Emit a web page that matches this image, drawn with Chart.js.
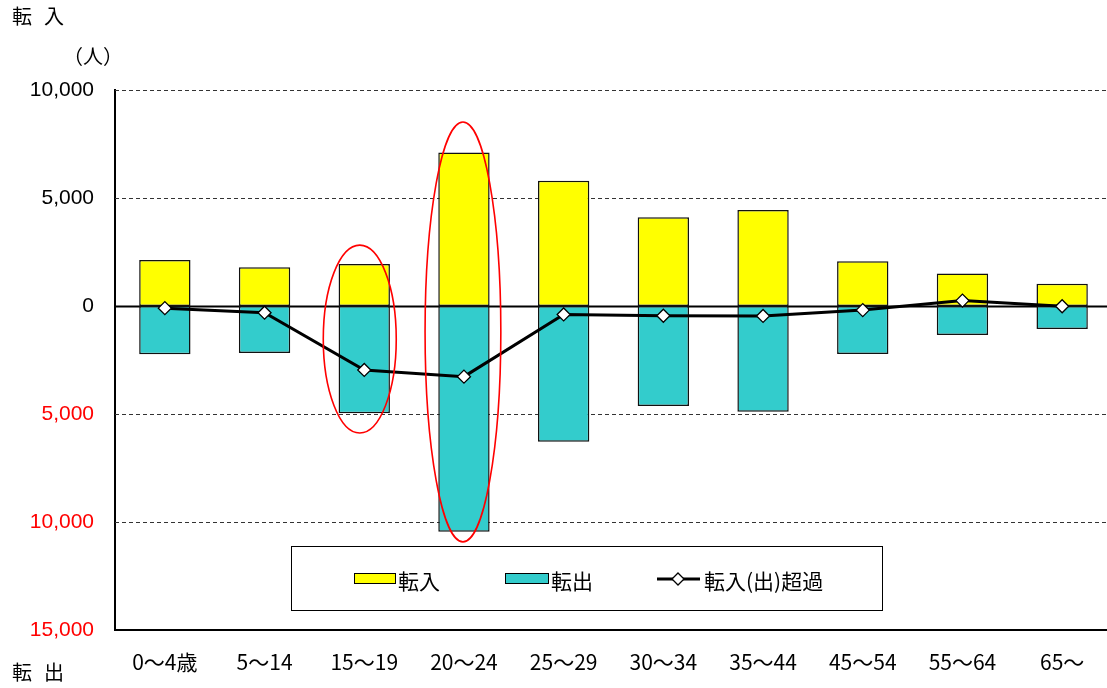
<!DOCTYPE html>
<html><head><meta charset="utf-8">
<script src="https://cdn.jsdelivr.net/npm/chart.js@4/dist/chart.umd.min.js"></script>
<style>
html,body{margin:0;padding:0;background:#fff;}
#wrap{position:relative;width:1107px;height:688px;overflow:hidden;}
canvas{position:absolute;left:0;top:0;}
.lbl{position:absolute;font-family:"Noto Sans CJK JP",sans-serif;font-size:20px;color:#000;line-height:1;white-space:pre;}
</style></head>
<body>
<div id="wrap">
<canvas id="c" width="1120" height="688" style="width:1120px;height:688px"></canvas>
<div class="lbl" style="left:12px;top:6px;letter-spacing:-4px;">転　入</div>
<div class="lbl" style="left:63px;top:46px;">（人）</div>
<div class="lbl" style="left:12px;top:662px;letter-spacing:-4px;">転　出</div>
</div>
<script>
const categories = ['0～4歳','5～14','15～19','20～24','25～29','30～34','35～44','45～54','55～64','65～'];
const inflow  = [2130, 1790, 1940, 7110, 5800, 4110, 4440, 2070, 1510, 1030];
const outflow = [-2230, -2180, -4970, -10450, -6280, -4630, -4900, -2220, -1340, -1060];
const netflow = [-100, -310, -2960, -3270, -390, -450, -460, -190, 250, -10];
const yTicks = [10000, 5000, 0, -5000, -10000, -15000];
const seriesNames = ['転入', '転出', '転入(出)超過'];

const gridPlugin = {
  id: 'grid',
  beforeDatasetsDraw(chart) {
    const {ctx, chartArea, scales: {y}} = chart;
    ctx.save();
    yTicks.forEach(v => {
      if (v === -15000) return;
      const py = Math.round(y.getPixelForValue(v)) + 0.5;
      ctx.beginPath();
      if (v === 0) { ctx.setLineDash([]); ctx.lineWidth = 2; ctx.strokeStyle = '#000'; }
      else { ctx.setLineDash([4, 3]); ctx.lineWidth = 1; ctx.strokeStyle = '#333'; }
      ctx.moveTo(chartArea.left, py);
      ctx.lineTo(chart.width, py);
      ctx.stroke();
    });
    ctx.restore();
  }
};

const ellipsePlugin = {
  id: 'ellipses',
  afterDatasetsDraw(chart, args, opts) {
    const {ctx, scales: {x, y}} = chart;
    const cw = x.getPixelForValue(1) - x.getPixelForValue(0);
    ctx.save();
    ctx.strokeStyle = '#FF0000';
    ctx.lineWidth = 1.6;
    opts.items.forEach(e => {
      const cx = x.getPixelForValue(e.cat) + e.dx * cw;
      const cy = y.getPixelForValue(e.mid);
      const ry = Math.abs(y.getPixelForValue(e.mid + e.half) - cy);
      ctx.beginPath();
      ctx.ellipse(cx, cy, e.rx * cw, ry, 0, 0, Math.PI * 2);
      ctx.stroke();
    });
    ctx.restore();
  }
};

const legendPlugin = {
  id: 'boxLegend',
  afterDraw(chart) {
    const ctx = chart.ctx;
    ctx.save();
    ctx.fillStyle = '#fff';
    ctx.fillRect(291, 546, 592, 65);
    ctx.lineWidth = 1;
    ctx.strokeStyle = '#000';
    ctx.strokeRect(291.5, 546.5, 591, 64);
    ctx.fillStyle = '#FFFF00';
    ctx.fillRect(354, 573, 41, 10);
    ctx.strokeRect(354.5, 573.5, 41, 10);
    ctx.fillStyle = '#33CCCC';
    ctx.fillRect(505, 573, 43, 10);
    ctx.strokeRect(505.5, 573.5, 43, 10);
    ctx.lineWidth = 3;
    ctx.beginPath(); ctx.moveTo(657, 579); ctx.lineTo(700, 579); ctx.stroke();
    ctx.lineWidth = 1.3;
    ctx.fillStyle = '#fff';
    ctx.beginPath();
    ctx.moveTo(678, 573); ctx.lineTo(684, 579); ctx.lineTo(678, 585); ctx.lineTo(672, 579); ctx.closePath();
    ctx.fill(); ctx.stroke();
    ctx.fillStyle = '#000';
    ctx.font = '21px "Noto Sans CJK JP", sans-serif';
    ctx.textBaseline = 'middle';
    ctx.fillText(seriesNames[0], 398, 581);
    ctx.fillText(seriesNames[1], 551, 581);
    ctx.fillText(seriesNames[2], 704, 581);
    ctx.restore();
  }
};

new Chart(document.getElementById('c'), {
  data: {
    labels: categories,
    datasets: [
      { type: 'line', label: seriesNames[2], data: netflow, stack: 'net', order: 0,
        borderColor: '#000', borderWidth: 3, tension: 0,
        pointStyle: 'rectRot', pointRadius: 6.5, pointBackgroundColor: '#fff',
        pointBorderColor: '#000', pointBorderWidth: 1.3 },
      { type: 'bar', label: seriesNames[0], data: inflow, stack: 'flow', order: 1,
        backgroundColor: '#FFFF00', borderColor: '#111', borderWidth: 1.5, borderSkipped: false,
        barPercentage: 0.515, categoryPercentage: 1 },
      { type: 'bar', label: seriesNames[1], data: outflow, stack: 'flow', order: 1,
        backgroundColor: '#33CCCC', borderColor: '#111', borderWidth: 1.5, borderSkipped: false,
        barPercentage: 0.515, categoryPercentage: 1 }
    ]
  },
  options: {
    responsive: false,
    devicePixelRatio: 1,
    animation: false,
    layout: { padding: { top: 90, right: 8, left: 0, bottom: 0 } },
    plugins: {
      legend: { display: false },
      tooltip: { enabled: false },
      ellipses: { items: [
        { cat: 2, dx: -0.045, mid: -1530, half: 4350, rx: 0.366 },
        { cat: 3, dx: -0.01, mid: -1200, half: 9720, rx: 0.38 }
      ] }
    },
    scales: {
      x: {
        stacked: true,
        grid: { display: false, drawTicks: false },
        border: { display: true, color: '#000', width: 2 },
        ticks: { color: '#000', padding: 19, maxRotation: 0, autoSkip: false,
          font: { family: '"Noto Sans CJK JP", sans-serif', size: 21 } },
        afterFit(s) { s.height = 58; }
      },
      y: {
        stacked: true,
        min: -15000, max: 10000,
        afterBuildTicks(s) { s.ticks = yTicks.map(v => ({ value: v })); },
        grid: { display: false, drawTicks: false },
        border: { display: true, color: '#000', width: 2 },
        ticks: {
          padding: 21,
          font: { family: '"Liberation Sans", Arial, sans-serif', size: 21 },
          color: (c) => (c.tick && c.tick.value < 0) ? '#FF0000' : '#000',
          callback: (v) => Math.abs(v).toLocaleString('en-US')
        },
        afterFit(s) { s.width = 115; }
      }
    }
  },
  plugins: [gridPlugin, ellipsePlugin, legendPlugin]
});
</script>
</body></html>
